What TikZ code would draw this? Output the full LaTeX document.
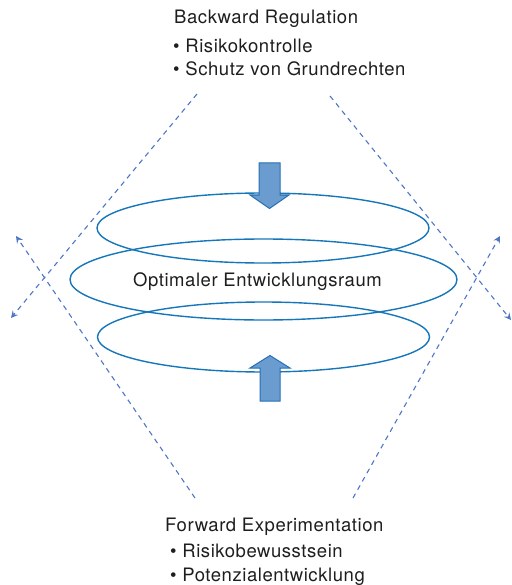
\documentclass[tikz,border=0pt]{standalone}
\usepackage{fontspec}
\setmainfont{TeX Gyre Heros}
\newfontfamily\lblfont[LetterSpace=3]{TeX Gyre Heros}
\usetikzlibrary{arrows.meta}
\definecolor{ellblue}{RGB}{22,118,186}
\definecolor{dashblue}{RGB}{78,118,198}
\definecolor{arrfill}{RGB}{106,156,208}
\definecolor{arrline}{RGB}{38,112,180}
\definecolor{txtcol}{RGB}{30,30,30}
\tikzset{
  ell/.style={draw=ellblue, line width=1.4pt},
  dl/.style={draw=dashblue, line width=1.1pt, dash pattern=on 5pt off 4.5pt,
     -{Stealth[length=7pt,width=7pt,inset=2.5pt]}},
  blockarrow/.style={draw=arrline, fill=arrfill, line width=1pt, line join=miter},
  txt/.style={inner sep=0pt, text=txtcol, font=\lblfont\fontsize{18.5}{22}\selectfont},
  ltxt/.style={txt, anchor=base west},
}
\begin{document}
\begin{tikzpicture}[x=1pt,y=-1pt]
\useasboundingbox (0,0) rectangle (511,585);
% ellipses
\draw[ell] (263,228) ellipse [x radius=166, y radius=35];
\draw[ell] (263.5,279.5) ellipse [x radius=193.5, y radius=40.5];
\draw[ell] (263.5,337) ellipse [x radius=166, y radius=35];
% block arrows
\draw[blockarrow] (259,163) -- (280,163) -- (280,195) -- (289,195) -- (269.5,208.5) -- (250,195) -- (259,195) -- cycle;
\draw[blockarrow] (260,401) -- (280,401) -- (280,368) -- (290,368) -- (270,355.5) -- (250,368) -- (260,368) -- cycle;
% middle label
\node[txt] (mid) at (257.5,282) {Optimaler Entwicklungsraum};
% dashed lines
\coordinate (ulS) at (197,94);
\coordinate (ulE) at (11,318);
\coordinate (llS) at (195,498);
\coordinate (llE) at (16,236);
\coordinate (urS) at (330,96);
\coordinate (urE) at (511,320);
\coordinate (lrS) at (353,498);
\coordinate (lrE) at (500,236);
\draw[dl] (ulS) -- (ulE);
\draw[dl] (llS) -- (llE);
\draw[dl] (urS) -- (urE);
\draw[dl] (lrS) -- (lrE);
% top text
\node[ltxt] (bt) at (174,24) {Backward Regulation};
\node[ltxt] (b1) at (173,53) {• Risikokontrolle};
\node[ltxt] (b2) at (173,76) {• Schutz von Grundrechten};
% bottom text
\node[ltxt] (ft) at (165,531) {Forward Experimentation};
\node[ltxt] (f1) at (170,557) {• Risikobewusstsein};
\node[ltxt] (f2) at (170,581) {• Potenzialentwicklung};
\end{tikzpicture}
\end{document}
